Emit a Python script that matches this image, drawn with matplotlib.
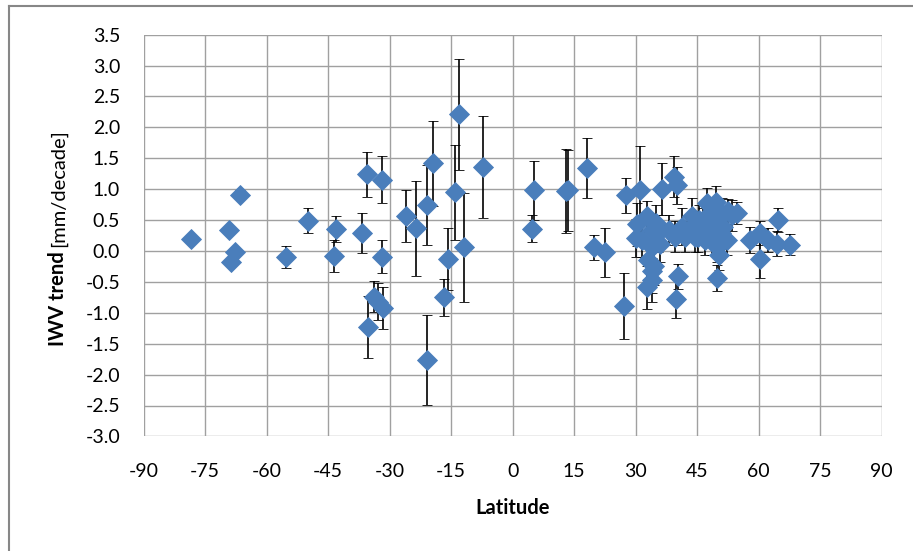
import matplotlib
matplotlib.use("Agg")
import matplotlib.pyplot as plt
from matplotlib.lines import Line2D
import numpy as np

plt.rcParams['font.family'] = ['Lato', 'DejaVu Sans']

# Latitude [deg], IWV trend [mm/decade], error [mm/decade]
latitude = [
    -78.5, -69.2, -68.6, -67.8, -66.5, -55.2, -50.0, -43.0, -43.5, -36.8,
    -35.5, -32.0, -32.0, -33.8, -32.9, -31.6, -35.2, -26.1, -23.6, -20.8,
    -19.4, -21.0, -15.9, -16.8, -13.0, -14.0, -12.0, -7.3,
    4.6, 5.2, 13.0, 13.6, 18.1, 19.8, 22.4, 27.2, 27.6, 31.0,
    30.3, 30.0, 31.5, 32.7, 33.9, 33.9, 33.1, 33.9, 33.9, 32.7,
    34.5, 35.5, 36.5, 38.0, 39.3, 40.0, 39.6, 40.2, 39.8, 41.2,
    42.0, 43.7, 44.5, 45.5, 46.9, 47.3, 48.1, 49.5, 49.8, 50.2,
    49.8, 51.4, 52.2, 52.6, 53.4, 54.6, 57.9, 60.3, 60.3, 62.3,
    64.4, 64.8, 67.6, 49.3, 50.9, 46.5, 45.3, 48.5, 35.0, 36.0,
    47.8, 51.0, 44.0, 50.5,
]
trend = [
    0.19, 0.34, -0.18, -0.01, 0.91, -0.10, 0.49, 0.36, -0.08, 0.29,
    1.24, 1.15, -0.09, -0.74, -0.82, -0.92, -1.23, 0.57, 0.37, 0.74,
    1.42, -1.76, -0.13, -0.75, 2.21, 0.95, 0.06, 1.36,
    0.36, 0.98, 0.97, 0.98, 1.34, 0.06, -0.02, -0.89, 0.90, 0.98,
    0.43, 0.21, 0.18, 0.56, 0.34, 0.07, -0.15, -0.33, -0.47, -0.59,
    -0.25, 0.29, 1.00, 0.34, 1.20, 1.06, 0.23, -0.41, -0.77, 0.39,
    0.23, 0.56, 0.23, 0.50, 0.18, 0.77, 0.34, 0.80, 0.07, -0.06,
    -0.44, 0.39, 0.18, 0.64, 0.58, 0.61, 0.18, 0.29, -0.13, 0.18,
    0.12, 0.50, 0.10, 0.45, 0.29, 0.45, 0.23, 0.18, 0.45, 0.12,
    0.60, 0.60, 0.40, 0.12,
]
error = [
    0.06, 0.06, 0.06, 0.06, 0.07, 0.18, 0.20, 0.21, 0.26, 0.33,
    0.36, 0.38, 0.27, 0.25, 0.30, 0.34, 0.50, 0.42, 0.77, 0.65,
    0.69, 0.73, 0.50, 0.30, 0.90, 0.77, 0.88, 0.83,
    0.22, 0.48, 0.68, 0.66, 0.49, 0.20, 0.40, 0.54, 0.28, 0.72,
    0.35, 0.30, 0.28, 0.25, 0.25, 0.30, 0.30, 0.35, 0.35, 0.35,
    0.30, 0.30, 0.42, 0.25, 0.33, 0.30, 0.25, 0.20, 0.32, 0.30,
    0.25, 0.30, 0.25, 0.25, 0.25, 0.25, 0.25, 0.25, 0.25, 0.25,
    0.21, 0.25, 0.25, 0.20, 0.25, 0.18, 0.21, 0.20, 0.30, 0.20,
    0.20, 0.19, 0.17, 0.25, 0.25, 0.25, 0.25, 0.25, 0.30, 0.30,
    0.25, 0.25, 0.25, 0.25,
]

x_ticks = [-90, -75, -60, -45, -30, -15, 0, 15, 30, 45, 60, 75, 90]
y_ticks = [-3.0, -2.5, -2.0, -1.5, -1.0, -0.5, 0.0, 0.5, 1.0, 1.5, 2.0, 2.5, 3.0, 3.5]
y_labels = [f"{v:.1f}" for v in y_ticks]

W, H = 913, 551
fig = plt.figure(figsize=(W / 100, H / 100), dpi=100)
fig.patch.set_facecolor('white')

left, right, top, bottom = 143.7, 881.7, 34.7, 436.4
ax = fig.add_axes([left / W, 1 - bottom / H, (right - left) / W, (bottom - top) / H])

ax.errorbar(latitude, trend, yerr=error, fmt='D', color='#4A7EBB',
            markersize=10.5, markeredgecolor='#4A7EBB', markeredgewidth=0.6,
            ecolor='black', elinewidth=1.2, capsize=3.8, capthick=1.2,
            zorder=3)

ax.set_xlim(-90, 90)
ax.set_ylim(-3.0, 3.5)
ax.set_xticks(x_ticks)
ax.set_xticklabels([str(t) for t in x_ticks])
ax.set_yticks(y_ticks)
ax.set_yticklabels(y_labels)
ax.grid(True, color='#A0A0A0', linewidth=1.0, zorder=0)
ax.set_axisbelow(True)
for s in ax.spines.values():
    s.set_visible(False)
ax.tick_params(axis='both', length=0, labelsize=14, colors='black')
ax.tick_params(axis='x', pad=19)
ax.tick_params(axis='y', pad=17)

ax.set_xlabel('Latitude', fontsize=14.5, fontweight='bold', labelpad=13)

# y label: bold "IWV trend" + regular "[mm/decade]"
xl = 58 / W
t1 = fig.text(xl, 1 - 346 / H, 'IWV trend', rotation=90, ha='center', va='bottom',
              fontsize=14.5, fontweight='bold')
fig.canvas.draw()
bb = t1.get_window_extent(renderer=fig.canvas.get_renderer())
fig.text(xl, (bb.y1 + 4) / H, '[mm/decade]', rotation=90, ha='center', va='bottom',
         fontsize=14.5)

# outer chart frame
fig.add_artist(Line2D([9 / W, 9 / W], [0, 1 - 6 / H], color='#878787', linewidth=1.5,
                      transform=fig.transFigure))
fig.add_artist(Line2D([9 / W, 1], [1 - 6 / H, 1 - 6 / H], color='#878787', linewidth=1.5,
                      transform=fig.transFigure))

fig.savefig('out.png', dpi=100)
